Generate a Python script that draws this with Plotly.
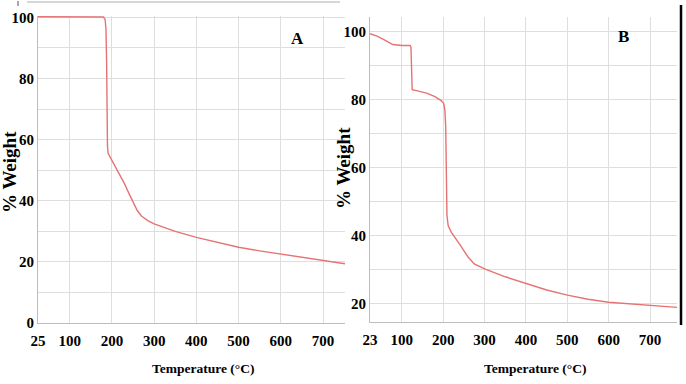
import plotly.graph_objects as go

# Panel A data (Temperature °C, % Weight)
temp_a = [25, 100, 180, 184, 186, 187.5, 188.5, 189.5, 191, 195, 200, 210, 220, 230, 240, 250, 260, 270, 285, 300, 350, 400, 450, 500, 550, 600, 650, 700, 752]
weight_a = [100.2, 100.2, 100.1, 99.3, 96, 85, 68, 58, 55.5, 54.5, 53.3, 51, 48.5, 45.5, 42.5, 39.5, 36.8, 35, 33.5, 32.4, 30, 28, 26.3, 24.8, 23.6, 22.5, 21.4, 20.3, 19.4]

# Panel B data
temp_b = [23, 40, 60, 78, 100, 120, 122, 123, 125, 140, 160, 180, 195, 201, 204, 206, 207.5, 209, 212, 220, 240, 260, 275, 300, 350, 400, 450, 500, 550, 600, 650, 700, 765]
weight_b = [99.5, 98.8, 97.5, 96.3, 96.0, 96.0, 95.5, 88, 83, 82.6, 82.0, 81.0, 79.8, 79.0, 77, 72, 60, 46, 43, 41, 37.5, 33.8, 31.8, 30.3, 28.0, 26.0, 24.1, 22.6, 21.4, 20.5, 20.0, 19.6, 19.0]

xticks_a = [25, 100, 200, 300, 400, 500, 600, 700]
xticks_b = [23, 100, 200, 300, 400, 500, 600, 700]
yticks_a = [0, 20, 40, 60, 80, 100]
yticks_b = [20, 40, 60, 80, 100]

W, H = 686, 384
def px(x):
    return x / W
def py(y):
    return 1 - y / H

line_col = "#e57373"
grid_col = "#dedede"
font_fam = "Liberation Serif"
tick_font = dict(family=font_fam, size=15, color="black")

def bold(vals):
    return ["<b>%s</b>" % v for v in vals]

fig = go.Figure()
fig.add_trace(go.Scatter(x=temp_a, y=weight_a, mode="lines", line=dict(color=line_col, width=1.4),
                         xaxis="x", yaxis="y", showlegend=False))
fig.add_trace(go.Scatter(x=temp_b, y=weight_b, mode="lines", line=dict(color=line_col, width=1.4),
                         xaxis="x2", yaxis="y2", showlegend=False))

common_x = dict(showgrid=True, gridcolor=grid_col, gridwidth=1, zeroline=False,
                showline=True, linecolor="#bdbdbd", linewidth=1, automargin=False,
                tickfont=tick_font, ticks="", fixedrange=True, ticklabelstandoff=4)
common_y = dict(showgrid=True, gridcolor=grid_col, gridwidth=1, zeroline=False,
                showline=True, linecolor="#bdbdbd", linewidth=1, automargin=False,
                tickfont=tick_font, ticks="", fixedrange=True, ticklabelstandoff=0,
                minor=dict(dtick=10, showgrid=True, gridcolor=grid_col, gridwidth=1))

fig.update_layout(
    width=W, height=H,
    margin=dict(l=0, r=0, t=0, b=0),
    paper_bgcolor="white", plot_bgcolor="white",
    xaxis=dict(domain=[px(38), px(345)], range=[25, 752], tickvals=xticks_a,
               ticktext=bold(xticks_a), anchor="y", **common_x),
    yaxis=dict(domain=[py(323), py(15.8)], range=[0, 100.5], tickvals=yticks_a,
               ticktext=bold(yticks_a), anchor="x", **common_y),
    xaxis2=dict(domain=[px(370), px(677)], range=[23, 765], tickvals=xticks_b,
                ticktext=bold(xticks_b), anchor="y2", **common_x),
    yaxis2=dict(domain=[py(322), py(17)], range=[14.7, 104.4], tickvals=yticks_b,
                ticktext=bold(yticks_b), anchor="x2", **common_y),
)

title_font = dict(family=font_fam, size=13.5, color="black")
ytitle_font = dict(family=font_fam, size=19, color="black")
ann = [
    dict(text="<b>Temperature (°C)</b>", x=px(203), y=py(368), font=title_font),
    dict(text="<b>Temperature (°C)</b>", x=px(535), y=py(368), font=title_font),
    dict(text="<b>% Weight</b>", x=px(9), y=py(172), textangle=-90, font=ytitle_font),
    dict(text="<b>% Weight</b>", x=px(343), y=py(168), textangle=-90, font=ytitle_font),
    dict(text="<b>A</b>", x=px(297), y=py(38), font=dict(family=font_fam, size=17, color="black")),
    dict(text="<b>B</b>", x=px(623), y=py(37), font=dict(family=font_fam, size=17, color="black")),
]
for a in ann:
    fig.add_annotation(xref="paper", yref="paper", showarrow=False, xanchor="center", yanchor="middle", **a)

fig.add_shape(type="line", xref="paper", yref="paper", x0=px(27), x1=px(340), y0=py(2), y1=py(2),
              line=dict(color="#c8c8c8", width=1.5))
fig.add_shape(type="line", xref="paper", yref="paper", x0=px(18), x1=px(18), y0=py(1), y1=py(6),
              line=dict(color="#555555", width=1))
fig.add_shape(type="line", xref="paper", yref="paper", x0=px(681), x1=px(681), y0=py(5), y1=py(325),
              line=dict(color="black", width=2.5))

fig.write_html("out.html", config={"displayModeBar": False},
               post_script="document.body.style.margin='0';document.body.style.overflow='hidden';")
